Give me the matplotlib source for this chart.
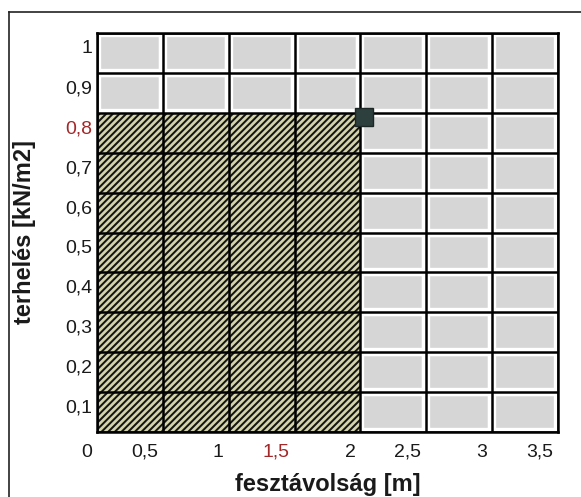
import matplotlib
matplotlib.use("Agg")
import matplotlib.pyplot as plt
import matplotlib.patches as patches
from matplotlib.lines import Line2D

# data
X_TICKS = [0, 0.5, 1, 1.5, 2, 2.5, 3, 3.5]
X_LABELS = ["0", "0,5", "1", "1,5", "2", "2,5", "3", "3,5"]
Y_TICKS = [0.1, 0.2, 0.3, 0.4, 0.5, 0.6, 0.7, 0.8, 0.9, 1.0]
Y_LABELS = ["0,1", "0,2", "0,3", "0,4", "0,5", "0,6", "0,7", "0,8", "0,9", "1"]
RED_X = ["1,5"]
RED_Y = ["0,8"]

SPAN_LIMIT = 2.0    # m
LOAD_LIMIT = 0.8    # kN/m2
POINT = (2.03, 0.79)

GRAY = "#d6d6d6"
RED = "#a3282a"
LINE_W = 1.8

plt.rcParams["font.family"] = ["Liberation Sans", "DejaVu Sans"]
plt.rcParams["hatch.linewidth"] = 1.45

fig = plt.figure(figsize=(5.81, 4.97), dpi=100)
ax = fig.add_axes([97 / 581, 1 - 432 / 497, 461 / 581, 399 / 497])

x_max = X_TICKS[-1]
y_max = Y_TICKS[-1]
dx = X_TICKS[1] - X_TICKS[0]
dy = Y_TICKS[1] - Y_TICKS[0]

# grey cells with a white margin
for x0 in X_TICKS[:-1]:
    for y1 in Y_TICKS:
        rect = patches.Rectangle((x0, y1 - dy), dx, dy, facecolor=GRAY,
                                 edgecolor="white", linewidth=6.0, zorder=1)
        ax.add_patch(rect)

# hatched region that is allowed
hatch = patches.Rectangle((0, 0), SPAN_LIMIT, LOAD_LIMIT, facecolor="#d4d4ac",
                          edgecolor="#141414", hatch="/////", linewidth=0, zorder=2)
ax.add_patch(hatch)

# black grid
ax.vlines(X_TICKS, 0, y_max, colors="black", linewidth=LINE_W, zorder=3)
ax.hlines([0] + Y_TICKS, 0, x_max, colors="black", linewidth=LINE_W, zorder=3)

ax.plot(POINT[0], POINT[1], marker="s", markersize=13, markerfacecolor="#2e403d",
        markeredgecolor="#1c2624", markeredgewidth=1, zorder=5, clip_on=False)

ax.set_xlim(0, x_max)
ax.set_ylim(0, y_max)
ax.set_xticks([])
ax.set_yticks([])
for s in ax.spines.values():
    s.set_linewidth(LINE_W)
    s.set_zorder(4)

# tick labels, right aligned at the cell edges
for v, lab in zip(X_TICKS, X_LABELS):
    ax.annotate(lab, xy=(v, 0), xycoords=("data", "axes fraction"),
                xytext=(-3.5, -14.5), textcoords="offset points",
                ha="right", va="center", fontsize=14,
                color=RED if lab in RED_X else "#1a1a1a", annotation_clip=False)
for v, lab in zip(Y_TICKS, Y_LABELS):
    ax.annotate(lab, xy=(0, v - 0.04), xycoords=("axes fraction", "data"),
                xytext=(-3.5, 0), textcoords="offset points",
                ha="right", va="center", fontsize=14,
                color=RED if lab in RED_Y else "#1a1a1a", annotation_clip=False)

fig.text(25 / 581, 1 - 232 / 497, "terhelés [kN/m2]", rotation=90, ha="center",
         va="center", fontsize=17, fontweight="bold", color="#1a1a1a")
fig.text(328 / 581, 1 - 484 / 497, "fesztávolság [m]", ha="center",
         va="center", fontsize=17, fontweight="bold", color="#1a1a1a")

# outer frame of the scanned figure
fig.add_artist(Line2D([9 / 581, 9 / 581], [0, 1 - 12 / 497], color="#222222", linewidth=1.2))
fig.add_artist(Line2D([9 / 581, 1], [1 - 12 / 497, 1 - 12 / 497], color="#222222", linewidth=1.2))

fig.savefig("out.png", dpi=100)
